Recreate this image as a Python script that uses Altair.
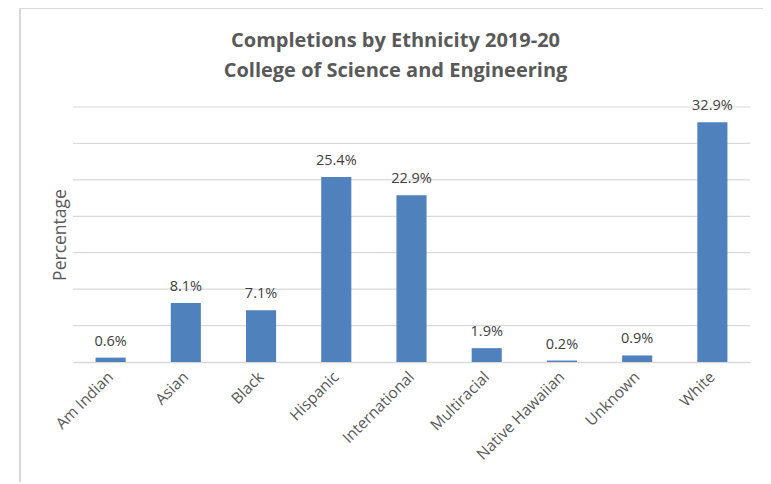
import altair as alt
import pandas as pd

categories = ["Am Indian", "Asian", "Black", "Hispanic", "International",
              "Multiracial", "Native Hawaiian", "Unknown", "White"]
values = [0.6, 8.1, 7.1, 25.4, 22.9, 1.9, 0.2, 0.9, 32.9]
labels = ["0.6%", "8.1%", "7.1%", "25.4%", "22.9%", "1.9%", "0.2%", "0.9%", "32.9%"]
grid_values = [5, 10, 15, 20, 25, 30, 35]

df = pd.DataFrame({"cat": categories, "val": values, "lab": labels})
gdf = pd.DataFrame({"g": grid_values})

FONT = "Open Sans"

x = alt.X("cat:N", sort=categories, title=None,
          scale=alt.Scale(paddingInner=0.6, paddingOuter=0.3),
          axis=alt.Axis(labelAngle=-45, labelAlign="right", labelBaseline="middle",
                        labelFontSize=15.5, labelColor="#595959", labelFont=FONT,
                        labelPadding=12, ticks=False, domain=True, domainColor="#d9d9d9",
                        domainWidth=1.5, grid=False))
y = alt.Y("val:Q", title="Percentage",
          scale=alt.Scale(domain=[0, 35], nice=False),
          axis=alt.Axis(labels=False, ticks=False, domain=False, grid=False,
                        titleFontSize=17.5, titleColor="#595959", titleFont=FONT,
                        titleFontWeight="normal", titlePadding=4))

grid = alt.Chart(gdf).mark_rule(color="#d9d9d9", strokeWidth=1.2).encode(
    y=alt.Y("g:Q", scale=alt.Scale(domain=[0, 35], nice=False)))
bars = alt.Chart(df).mark_bar(color="#4f81bd").encode(x=x, y=y)
text = alt.Chart(df).mark_text(dy=-16, fontSize=14.5, color="#404040", font=FONT).encode(
    x=alt.X("cat:N", sort=categories), y="val:Q", text="lab:N")

border = alt.Chart(df).mark_rect(fill=None, stroke="#d9d9d9", strokeWidth=1.5).encode(
    x=alt.value(-53), x2=alt.value(720), y=alt.value(-99), y2=alt.value(420))

chart = alt.layer(border, grid, bars, text).properties(
    width=677, height=255,
    autosize=alt.AutoSizeParams(type="none"),
    padding={"left": 65, "top": 99, "right": 13, "bottom": 120},
    title=alt.TitleParams(
        text=["Completions by Ethnicity 2019-20", "College of Science and Engineering"],
        fontSize=20, font=FONT, fontWeight="bold", color="#595959",
        anchor="middle", dx=-16, offset=-74, lineHeight=30),
).configure_view(stroke=None)

chart.save("out.html", embed_options={"renderer": "svg", "actions": False})
